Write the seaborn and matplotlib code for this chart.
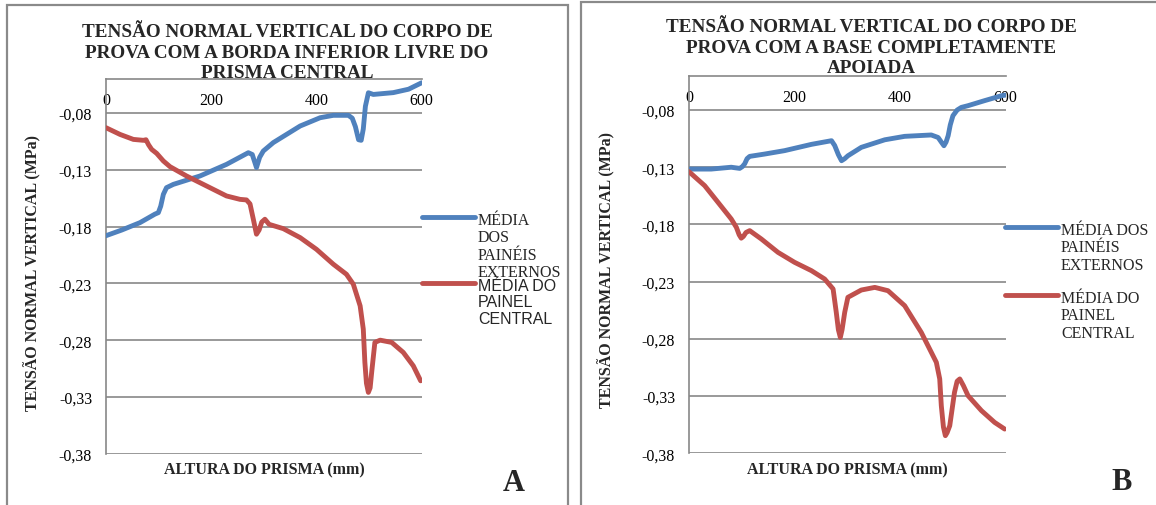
import numpy as np
import pandas as pd
import matplotlib
matplotlib.use("Agg")
import matplotlib.pyplot as plt
from matplotlib.lines import Line2D
from matplotlib.patches import Rectangle
import seaborn as sns

# ---------------- data ----------------
# Panel A: free lower edge of the central prism
a_ext_x = [0, 30, 64.6, 93, 99.5, 104, 109, 115, 128, 178.7, 229, 270.5, 278, 286, 292,
           299, 318, 369, 407, 432, 460.6, 468, 474, 480, 485, 489, 493, 498.7, 508, 546,
           575, 600]
a_ext_y = [-0.188, -0.183, -0.1765, -0.169, -0.1677, -0.162, -0.1516, -0.1457, -0.1428,
           -0.1354, -0.1252, -0.1149, -0.1165, -0.128, -0.119, -0.1134, -0.106, -0.0914,
           -0.0841, -0.082, -0.082, -0.0845, -0.092, -0.1035, -0.104, -0.094, -0.074,
           -0.0621, -0.0636, -0.062, -0.059, -0.0533]

a_cen_x = [0, 26.6, 52, 71, 76, 81, 86.8, 96.3, 109, 121.6, 153, 191, 229, 254.7, 267,
           273.7, 280, 286, 291, 296, 302, 310, 337, 369, 400, 432, 457, 470, 483, 489,
           492, 495, 498.6, 502, 505, 511, 521, 543, 565, 584, 598]
a_cen_y = [-0.0929, -0.0988, -0.1032, -0.104, -0.1035, -0.108, -0.112, -0.1155, -0.1222,
           -0.1272, -0.1354, -0.1442, -0.153, -0.156, -0.1565, -0.160, -0.1735, -0.1867,
           -0.183, -0.176, -0.1735, -0.178, -0.1818, -0.1897, -0.200, -0.2131, -0.222,
           -0.2307, -0.2498, -0.2703, -0.2996, -0.318, -0.326, -0.322, -0.308, -0.282,
           -0.280, -0.282, -0.2908, -0.3026, -0.3158]

# Panel B: fully supported base
b_ext_x = [0, 42, 80, 96, 101, 105.5, 110, 115, 143, 181, 232, 270, 276, 283, 289, 295,
           301, 326.5, 371, 408.6, 459, 472, 478, 483, 487, 491, 495, 500, 508, 516,
           528.6, 560, 592, 600]
b_ext_y = [-0.1316, -0.1316, -0.130, -0.131, -0.1295, -0.127, -0.1225, -0.1205, -0.1185,
           -0.1155, -0.110, -0.1068, -0.111, -0.119, -0.1243, -0.1225, -0.120, -0.1126,
           -0.106, -0.103, -0.1018, -0.104, -0.108, -0.1112, -0.108, -0.1024, -0.093,
           -0.085, -0.080, -0.0777, -0.0762, -0.0718, -0.0675, -0.0669]

b_cen_x = [0, 29.7, 55, 80, 89.7, 95, 99, 103, 108, 115, 137, 168.6, 200, 232, 257, 273,
           279, 283, 286.7, 290, 295, 301, 326.5, 352, 377, 408.6, 440, 468.6, 475, 478,
           482, 485.7, 489, 494, 503, 508, 513, 520, 528.6, 554, 579, 598]
b_cen_y = [-0.1339, -0.1461, -0.1607, -0.1752, -0.1825, -0.189, -0.192, -0.1905, -0.187,
           -0.1854, -0.1927, -0.2044, -0.2131, -0.2204, -0.2277, -0.2364, -0.2568, -0.272,
           -0.2787, -0.272, -0.2568, -0.2437, -0.2373, -0.235, -0.2379, -0.251, -0.2743,
           -0.3005, -0.315, -0.3384, -0.357, -0.3646, -0.362, -0.3559, -0.3267, -0.317,
           -0.315, -0.321, -0.3296, -0.3427, -0.353, -0.3588]

x_ticks = [0, 200, 400, 600]
y_ticks = [-0.38, -0.33, -0.28, -0.23, -0.18, -0.13, -0.08]
y_tick_labels = ["-0,38", "-0,33", "-0,28", "-0,23", "-0,18", "-0,13", "-0,08"]

series_names = ["MÉDIA DOS PAINÉIS EXTERNOS", "MÉDIA DO PAINEL CENTRAL"]
titles = ["TENSÃO NORMAL VERTICAL DO CORPO DE\nPROVA COM A BORDA INFERIOR LIVRE DO\nPRISMA CENTRAL",
          "TENSÃO NORMAL VERTICAL DO CORPO DE\nPROVA COM A BASE COMPLETAMENTE\nAPOIADA"]
x_label = "ALTURA DO PRISMA (mm)"
y_label = "TENSÃO NORMAL VERTICAL (MPa)"
panel_tags = ["A", "B"]

BLUE = "#4F81BD"
RED = "#C0504D"
GRID = "#878787"
SERIF = "Liberation Serif"
SANS = "Liberation Sans"

sns.set_theme(style="white")
plt.rcParams["font.family"] = [SERIF, "DejaVu Serif"]

W, H = 1156, 506
fig = plt.figure(figsize=(W / 100, H / 100), dpi=100)
fig.patch.set_facecolor("white")


def fx(px):
    return px / W


def fy(py):
    return 1 - py / H


def frame(x0, y0, x1, y1):
    fig.patches.append(Rectangle((fx(x0), fy(y1)), fx(x1) - fx(x0), fy(y0) - fy(y1),
                                 transform=fig.transFigure, fill=False,
                                 edgecolor="#8a8a8a", linewidth=1.6))


frame(7, 6, 568, 530)
frame(581, 3, 1170, 530)


def panel(box, ext_x, ext_y, cen_x, cen_y, title, title_xy, ylab_xy, xlab_xy,
          legend_geo, legend_labels, legend_fonts, tag, tag_xy):
    left, top, right, bottom = box
    ax = fig.add_axes([fx(left), fy(bottom), fx(right) - fx(left), fy(top) - fy(bottom)])
    df = pd.concat([
        pd.DataFrame({"x": ext_x, "y": ext_y, "s": series_names[0]}),
        pd.DataFrame({"x": cen_x, "y": cen_y, "s": series_names[1]}),
    ])
    sns.lineplot(data=df, x="x", y="y", hue="s", palette=[BLUE, RED], estimator=None,
                 sort=False, linewidth=3.5, legend=False, ax=ax,
                 solid_capstyle="round", solid_joinstyle="round", zorder=3)
    ax.set_xlim(0, 600)
    ax.set_ylim(-0.38, -0.05)
    ax.set_yticks(y_ticks)
    ax.set_yticklabels(y_tick_labels)
    ax.set_xticks(x_ticks)
    ax.set_xticklabels([str(v) for v in x_ticks])
    for yv in y_ticks:
        ax.axhline(yv, color=GRID, linewidth=1.2, zorder=1)
    for s in ["right", "bottom"]:
        ax.spines[s].set_visible(False)
    for s in ["left", "top"]:
        ax.spines[s].set_color(GRID)
        ax.spines[s].set_linewidth(1.2)
    ax.xaxis.tick_top()
    ax.tick_params(axis="x", which="both", length=0, pad=-21, labelsize=11.5,
                   labelcolor="black")
    ax.tick_params(axis="y", which="both", length=0, pad=10, labelsize=11.5,
                   labelcolor="black")
    for t in ax.get_xticklabels() + ax.get_yticklabels():
        t.set_family(SERIF)
    ax.set_xlabel(x_label, fontsize=11.5, fontweight="bold", family=SERIF, va="center")
    ax.set_ylabel(y_label, fontsize=11.5, fontweight="bold", family=SERIF, va="center")
    ax.xaxis.set_label_position("bottom")
    ax.xaxis.set_label_coords((xlab_xy[0] - left) / (right - left),
                              (bottom - xlab_xy[1]) / (bottom - top))
    ax.yaxis.set_label_coords((ylab_xy[0] - left) / (right - left),
                              (bottom - ylab_xy[1]) / (bottom - top))
    ax.set_facecolor("none")

    fig.text(fx(title_xy[0]), fy(title_xy[1]), title, ha="center", va="top",
             fontsize=13.8, fontweight="bold", family=SERIF, linespacing=1.28)

    (hx0, hx1, y_blue, y_red) = legend_geo
    for color, yy, lab, fam in zip([BLUE, RED], [y_blue, y_red], legend_labels, legend_fonts):
        fig.lines.append(Line2D([fx(hx0), fx(hx1)], [fy(yy), fy(yy)],
                                transform=fig.transFigure, color=color, linewidth=3.5,
                                solid_capstyle="round"))
        fig.text(fx(hx1 + 3), fy(yy) + 5 / H, lab, ha="left", va="top", fontsize=11.5,
                 family=fam, linespacing=1.12)

    fig.text(fx(tag_xy[0]), fy(tag_xy[1]), tag, ha="center", va="center",
             fontsize=22, fontweight="bold", family=SERIF)
    return ax


panel((106, 80, 421.7, 454.7), a_ext_x, a_ext_y, a_cen_x, a_cen_y, titles[0],
      (287, 24), (33, 273), (264, 462), (422, 475, 218, 284),
      ["MÉDIA\nDOS\nPAINÉIS\nEXTERNOS", "MÉDIA DO\nPAINEL\nCENTRAL"], [SERIF, SANS],
      panel_tags[0], (514, 484))

panel((689, 76.7, 1005.7, 454.3), b_ext_x, b_ext_y, b_cen_x, b_cen_y, titles[1],
      (871, 19), (607, 270), (847, 462), (1005, 1058, 228, 296),
      ["MÉDIA DOS\nPAINÉIS\nEXTERNOS", "MÉDIA DO\nPAINEL\nCENTRAL"], [SERIF, SERIF],
      panel_tags[1], (1122, 483))

fig.savefig("out.png", dpi=100, facecolor="white")
